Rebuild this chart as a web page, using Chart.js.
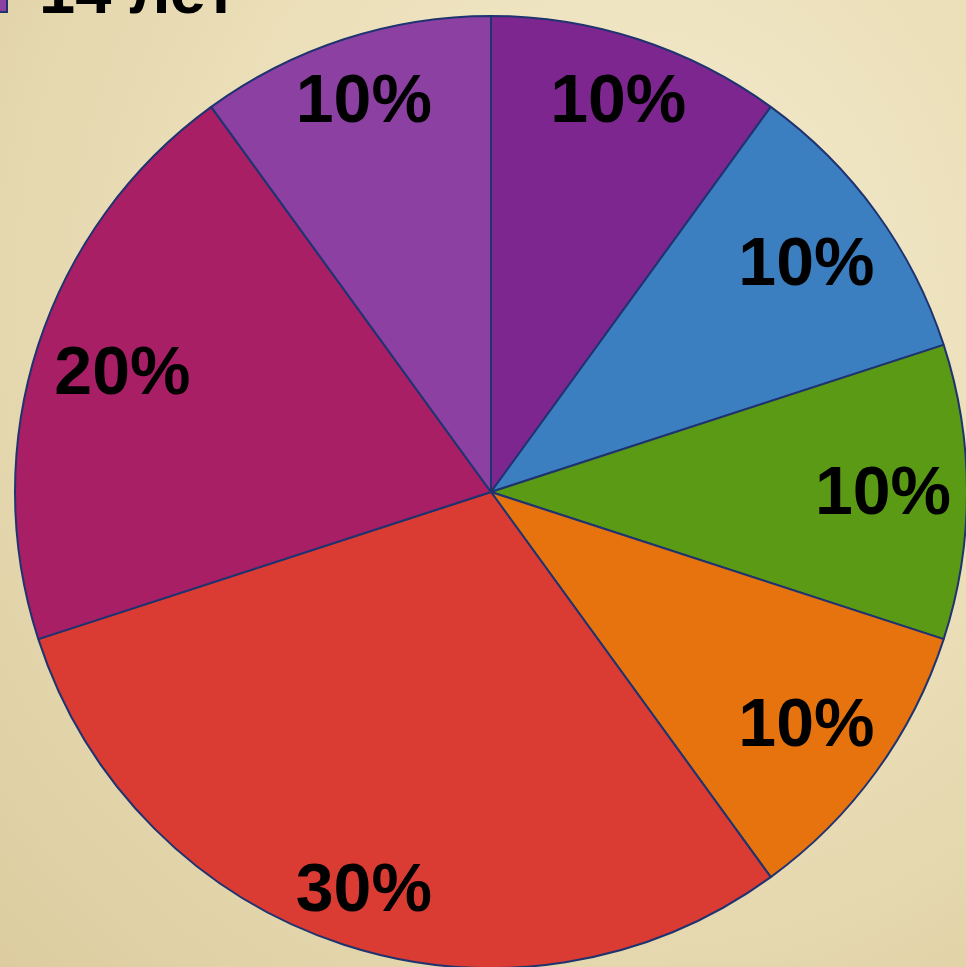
<!DOCTYPE html>
<html>
<head>
<meta charset="utf-8">
<script src="https://cdn.jsdelivr.net/npm/chart.js@4.4.0/dist/chart.umd.min.js"></script>
<style>
    html, body {
        margin: 0;
        padding: 0;
        width: 966px;
        height: 967px;
        overflow: hidden;
        background: radial-gradient(ellipse at 65% 30%, #f4ebcf 0%, #ece0ba 45%, #dccc9f 100%);
    }
    #chart-wrap {
        position: absolute;
        left: 0;
        top: 0;
    }
</style>
</head>
<body>
<div id="chart-wrap">
    <canvas id="chart-age" width="1000" height="1000"></canvas>
</div>
<script>
const seriesName = "14 лет";
const shares = [10, 10, 10, 10, 30, 20, 10];
const sliceColors = ["#7e2690", "#3b7fc0", "#5a9a14", "#e7730e", "#da3b32", "#a81f66", "#8b40a2"];

const edgeColor = "#1f3370";
const labelFont = "bold 68px 'Liberation Sans', Arial, sans-serif";

// percentages inside the slices, pushed out until the text box touches the rim
const sliceLabels = {
    id: "sliceLabels",
    afterDatasetsDraw(chart){
        const ctx = chart.ctx;
        const meta = chart.getDatasetMeta(0);
        const values = chart.data.datasets[0].data;
        const total = values.reduce((a, b) => a + b, 0);
        const margin = 16;
        ctx.save();
        ctx.font = labelFont;
        ctx.fillStyle = "#000";
        ctx.textAlign = "center";
        ctx.textBaseline = "middle";
        meta.data.forEach((arc, i) => {
            const text = Math.round(values[i] / total * 100) + "%";
            const mid = (arc.startAngle + arc.endAngle) / 2;
            const ux = Math.cos(mid);
            const uy = Math.sin(mid);
            const hw = ctx.measureText(text).width / 2;
            const hh = 25;
            const cx = Math.sign(ux) * hw;
            const cy = Math.sign(uy) * hh;
            const dot = ux * cx + uy * cy;
            const lim = arc.outerRadius - margin;
            const r = -dot + Math.sqrt(dot * dot - (cx * cx + cy * cy) + lim * lim);
            ctx.fillText(text, arc.x + ux * r, arc.y + uy * r + 3 + Math.max(uy, 0) * 6);
        });
        ctx.restore();
    }
};

// series key in the top left corner
const seriesKey = {
    id: "seriesKey",
    afterDraw(chart){
        const ctx = chart.ctx;
        ctx.save();
        ctx.fillStyle = sliceColors[6];
        ctx.strokeStyle = edgeColor;
        ctx.lineWidth = 2;
        ctx.fillRect(-30, -28, 37, 40);
        ctx.strokeRect(-30, -28, 37, 40);
        ctx.font = "bold 65px 'Liberation Sans', Arial, sans-serif";
        ctx.fillStyle = "#000";
        ctx.textBaseline = "alphabetic";
        ctx.textAlign = "left";
        ctx.fillText(seriesName, 39, 13);
        ctx.restore();
    }
};

new Chart(document.getElementById("chart-age"), {
    type: "pie",
    data: {
        labels: shares.map((v, i) => seriesName + " " + (i + 1)),
        datasets: [{
            label: seriesName,
            data: shares,
            backgroundColor: sliceColors,
            borderColor: edgeColor,
            borderWidth: 2,
            hoverOffset: 0,
        }]
    },
    options: {
        responsive: false,
        animation: false,
        layout: {
            padding: { left: 14, top: 15, right: 32, bottom: 31 }
        },
        plugins: {
            legend: { display: false },
            tooltip: { enabled: false },
        },
    },
    plugins: [sliceLabels, seriesKey]
});
</script>
</body>
</html>
